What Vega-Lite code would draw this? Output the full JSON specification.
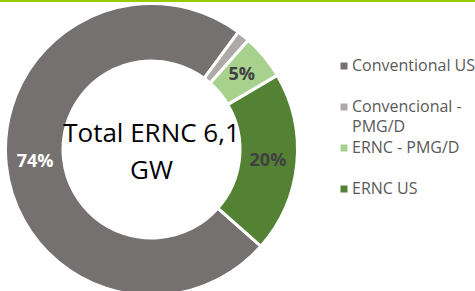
{
  "$schema": "https://vega.github.io/schema/vega-lite/v6.json",
  "width": 303,
  "height": 299,
  "padding": {"left": 0, "top": 0, "right": 172, "bottom": 0},
  "autosize": {"type": "none"},
  "background": "white",
  "config": {"view": {"stroke": null}, "style": {"guide-label": {"lineHeight": 20}}},
  "data": {
    "values": [
      {"category": "Conventional US", "share": 73.6, "label": "74%", "order": 1},
      {"category": "Convencional - PMG/D", "share": 1.4, "label": "", "order": 2},
      {"category": "ERNC - PMG/D", "share": 5.0, "label": "5%", "order": 3},
      {"category": "ERNC US", "share": 20.0, "label": "20%", "order": 4}
    ]
  },
  "layer": [
    {
      "mark": {"type": "arc", "outerRadius": 146, "innerRadius": 88.5, "stroke": "white", "strokeWidth": 3},
      "encoding": {
        "theta": {"field": "share", "type": "quantitative", "stack": true, "scale": {"range": [2.2951, 8.5783]}},
        "order": {"field": "order", "type": "quantitative"},
        "color": {
          "field": "category",
          "type": "nominal",
          "scale": {
            "domain": ["Conventional US", "Convencional - PMG/D", "ERNC - PMG/D", "ERNC US"],
            "range": ["#767171", "#AEAAAA", "#A9D18E", "#548235"]
          },
          "legend": {
            "title": null,
            "orient": "none",
            "legendX": 336,
            "legendY": 58,
            "padding": 0,
            "symbolType": "square",
            "symbolSize": 49,
            "symbolStrokeWidth": 0,
            "labelFont": "Open Sans",
            "labelFontSize": 16,
            "labelColor": "#595959",
            "labelOffset": 0,
            "labelLimit": 200,
            "gridAlign": "all",
            "rowPadding": 5,
            "labelExpr": "datum.label == 'Convencional - PMG/D' ? ['Convencional -', 'PMG/D'] : datum.label",
            "encode": {"labels": {"update": {"lineHeight": {"value": 20}}}}
          }
        }
      }
    },
    {
      "mark": {"type": "text", "radius": 117, "font": "Open Sans", "fontWeight": "bold", "fontSize": 18},
      "encoding": {
        "theta": {"field": "share", "type": "quantitative", "stack": true, "scale": {"range": [2.2951, 8.5783]}},
        "order": {"field": "order", "type": "quantitative"},
        "text": {"field": "label"},
        "color": {"condition": {"test": "datum.category == 'Conventional US'", "value": "white"}, "value": "#404040"}
      }
    },
    {
      "data": {"values": [{"note": "Total ERNC 6,1 GW"}]},
      "mark": {"type": "text", "text": ["Total ERNC 6,1", "GW"], "font": "Open Sans", "fontSize": 26, "lineHeight": 37, "baseline": "middle", "dy": -16, "color": "black"},
      "encoding": {}
    },
    {
      "data": {"values": [{"note": "top rule"}]},
      "mark": {"type": "rule", "color": "#99CC00", "strokeWidth": 2},
      "encoding": {"y": {"value": 1}, "x": {"value": 0}, "x2": {"value": 475}}
    }
  ]
}
